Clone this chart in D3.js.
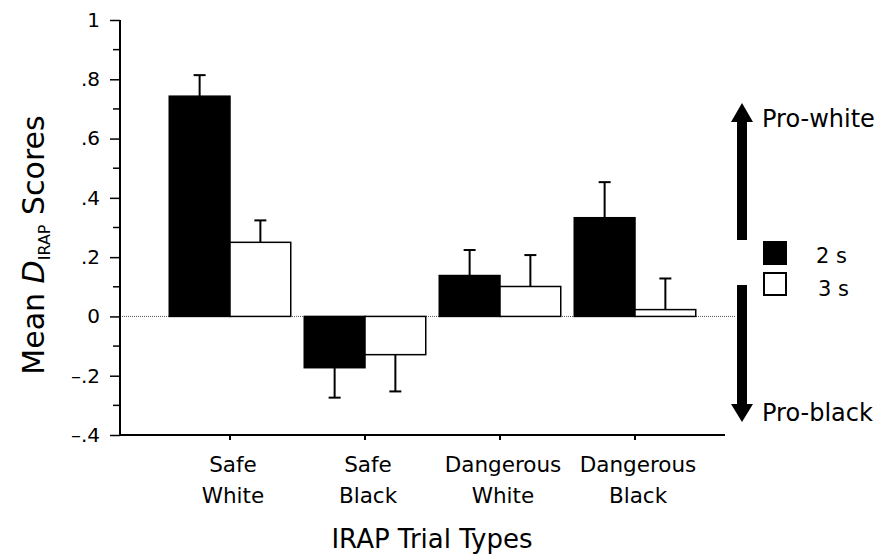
<!DOCTYPE html>
<html>
<head>
<meta charset="utf-8">
<script src="https://cdn.jsdelivr.net/npm/d3@7"></script>
<style>
  body { margin: 0; background: #fff; }
  text { font-family: "DejaVu Sans", sans-serif; fill: #000; }
</style>
</head>
<body>
<svg id="chart"></svg>
<script>
const categories = [["Safe", "White"], ["Safe", "Black"], ["Dangerous", "White"], ["Dangerous", "Black"]];
const seriesNames = ["2 s", "3 s"];
const means2s = [0.743, -0.173, 0.138, 0.333];
const means3s = [0.25, -0.129, 0.101, 0.023];
const errors2s = [0.071, 0.101, 0.086, 0.12];
const errors3s = [0.074, 0.124, 0.106, 0.105];
const yTicks = [-0.4, -0.2, 0, 0.2, 0.4, 0.6, 0.8, 1];
const yTickLabels = ["\u2013.4", "\u2013.2", "0", ".2", ".4", ".6", ".8", "1"];

const width = 885;
const height = 557;
const svg = d3.select("#chart").attr("width", width).attr("height", height);

const catKeys = categories.map(c => c.join(" "));
const x = d3.scaleBand().domain(catKeys).range([162.5, 702.5]).paddingInner(0.1).paddingOuter(0.05);
const xs = d3.scaleBand().domain(seriesNames).range([0, x.bandwidth()]);
const y = d3.scaleLinear().domain([-0.4, 1]).range([435, 20]);

const data = [];
catKeys.forEach((k, i) => {
  data.push({ cat: k, s: "2 s", v: means2s[i], e: errors2s[i] });
  data.push({ cat: k, s: "3 s", v: means3s[i], e: errors3s[i] });
});
const fill = d3.scaleOrdinal().domain(seriesNames).range(["#000", "#fff"]);

// zero line
svg.append("line")
  .attr("x1", 120).attr("x2", 736)
  .attr("y1", y(0)).attr("y2", y(0))
  .attr("stroke", "#555").attr("stroke-width", 1).attr("stroke-dasharray", "1,1");

// error bars (drawn in direction away from zero)
const eb = svg.append("g").attr("stroke", "#000").attr("stroke-width", 2);
data.forEach(d => {
  const cx = x(d.cat) + xs(d.s) + xs.bandwidth() / 2;
  const end = d.v >= 0 ? d.v + d.e : d.v - d.e;
  eb.append("line").attr("x1", cx).attr("x2", cx).attr("y1", y(d.v)).attr("y2", y(end));
  eb.append("line").attr("x1", cx - 6).attr("x2", cx + 6).attr("y1", y(end)).attr("y2", y(end));
});

// bars
svg.append("g").selectAll("rect").data(data).join("rect")
  .attr("x", d => x(d.cat) + xs(d.s))
  .attr("width", xs.bandwidth())
  .attr("y", d => y(Math.max(0, d.v)))
  .attr("height", d => Math.abs(y(d.v) - y(0)))
  .attr("fill", d => fill(d.s))
  .attr("stroke", "#000").attr("stroke-width", 1.5);

// y axis
const yAxis = d3.axisLeft(y).tickValues(yTicks).tickFormat((d, i) => yTickLabels[i]).tickSize(10).tickPadding(10);
const gy = svg.append("g").attr("transform", "translate(120,0)").call(yAxis);
gy.select(".domain").attr("stroke-width", 2).attr("d", `M0,${y(1)}V${y(-0.4)}`);
gy.selectAll(".tick line").attr("stroke-width", 1.5);
gy.selectAll(".tick text").style("font-size", "20px").attr("font-family", null);
// minor ticks
const minor = d3.range(-0.3, 1, 0.2);
gy.selectAll(".minor").data(minor).join("line")
  .attr("x1", -7).attr("x2", 0).attr("y1", d => y(d)).attr("y2", d => y(d))
  .attr("stroke", "#000").attr("stroke-width", 1.5);

// x axis
const gx = svg.append("g").attr("transform", `translate(0,${y(-0.4)})`);
gx.append("line").attr("x1", 120).attr("x2", 725).attr("stroke", "#000").attr("stroke-width", 2);
gx.selectAll(".xt").data(catKeys).join("line")
  .attr("x1", d => x(d) + x.bandwidth() / 2).attr("x2", d => x(d) + x.bandwidth() / 2)
  .attr("y1", 0).attr("y2", 5).attr("stroke", "#000").attr("stroke-width", 2);
const lab = gx.selectAll(".xl").data(categories).join("text")
  .attr("text-anchor", "middle").style("font-size", "21.5px");
lab.each(function (d, i) {
  const cx = x(catKeys[i]) + x.bandwidth() / 2 + 3;
  d3.select(this).selectAll("tspan").data(d).join("tspan")
    .attr("x", cx).attr("y", (t, j) => 37 + j * 31).text(t => t);
});

// axis titles
svg.append("text").attr("x", 432).attr("y", 548).attr("text-anchor", "middle")
  .style("font-size", "26px").text("IRAP Trial Types");
const yt = svg.append("text").attr("transform", "translate(44,245) rotate(-90)")
  .attr("text-anchor", "middle").style("font-size", "30px");
yt.append("tspan").text("Mean ");
yt.append("tspan").style("font-style", "italic").text("D");
yt.append("tspan").attr("dy", 6).style("font-size", "16px").text("IRAP");
yt.append("tspan").attr("dy", -6).text(" Scores");

// direction arrows
const ax = 742;
const arrows = svg.append("g").attr("fill", "#000");
arrows.append("path").attr("d", `M${ax - 5},240V122H${ax - 11}L${ax},103L${ax + 11},122H${ax + 5}V240Z`);
arrows.append("path").attr("d", `M${ax - 5},285V404H${ax - 11}L${ax},422L${ax + 11},404H${ax + 5}V285Z`);
svg.append("text").attr("x", 762).attr("y", 127).style("font-size", "24px").text("Pro-white");
svg.append("text").attr("x", 762).attr("y", 421).style("font-size", "24px").text("Pro-black");

// legend
const lg = svg.append("g");
seriesNames.forEach((s, i) => {
  lg.append("rect").attr("x", 764).attr("y", 242 + i * 31).attr("width", 22).attr("height", 22)
    .attr("fill", fill(s)).attr("stroke", "#000").attr("stroke-width", 2);
  lg.append("text").attr("x", 816 + i * 2).attr("y", 263 + i * 33).style("font-size", "21px").text(s);
});
</script>
</body>
</html>
